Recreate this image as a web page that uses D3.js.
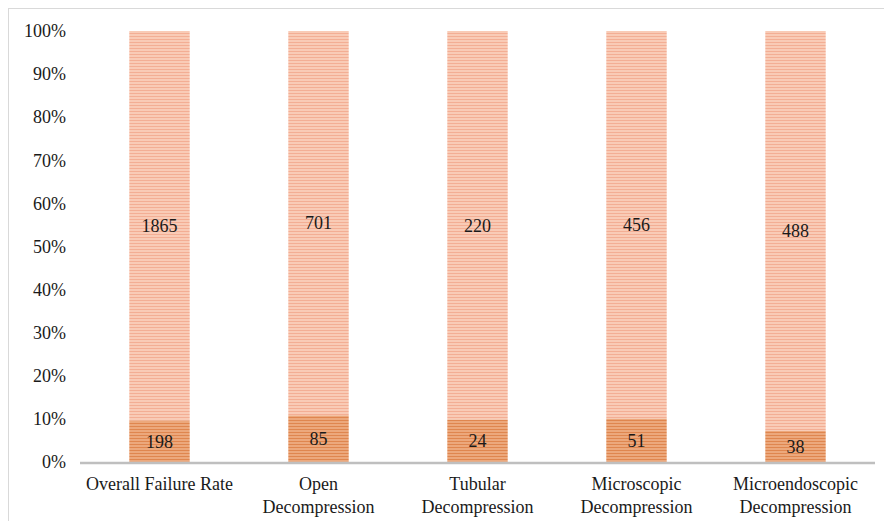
<!DOCTYPE html>
<html>
<head>
<meta charset="utf-8">
<script src="https://cdn.jsdelivr.net/npm/d3@7"></script>
<style>
  html, body { margin: 0; padding: 0; background: #fff; }
  svg { display: block; }
</style>
</head>
<body>
<svg id="chart" width="884" height="521"></svg>
<script>
// Decompression outcome counts, shown as 100% stacked bars
const categories = [
  ["Overall Failure Rate"],
  ["Open", "Decompression"],
  ["Tubular", "Decompression"],
  ["Microscopic", "Decompression"],
  ["Microendoscopic", "Decompression"]
];
const failures = [198, 85, 24, 51, 38];
const successes = [1865, 701, 220, 456, 488];
const yTicks = [0, 0.1, 0.2, 0.3, 0.4, 0.5, 0.6, 0.7, 0.8, 0.9, 1.0];

const svg = d3.select("#chart");
const W = 884, H = 521;
const margin = { left: 80, right: 9, top: 31, bottom: 59 };
const font = "'Liberation Serif', 'Times New Roman', serif";

// Outer frame
svg.append("rect")
  .attr("x", 8.5).attr("y", 8.5)
  .attr("width", 900).attr("height", 600)
  .attr("fill", "none").attr("stroke", "#d9d9d9").attr("stroke-width", 1);

// Horizontal-line fills
const defs = svg.append("defs");
function stripes(id, base, line) {
  const p = defs.append("pattern")
    .attr("id", id).attr("patternUnits", "userSpaceOnUse")
    .attr("width", 8).attr("height", 3);
  p.append("rect").attr("width", 8).attr("height", 3).attr("fill", base);
  p.append("rect").attr("y", 0).attr("width", 8).attr("height", 1).attr("fill", line);
}
stripes("stripeTop", "#f9cbb6", "#f3ae94");
stripes("stripeBottom", "#eca87c", "#df864f");

const x = d3.scaleBand()
  .domain(d3.range(categories.length))
  .range([margin.left, W - margin.right])
  .paddingInner(0.62).paddingOuter(0.31);

const y = d3.scaleLinear()
  .domain([0, 1])
  .range([H - margin.bottom, margin.top]);

const rows = categories.map((c, i) => {
  const total = failures[i] + successes[i];
  return { i, fail: failures[i], ok: successes[i], pf: failures[i] / total };
});

// Y axis labels (no line, no ticks)
const yAxis = svg.append("g")
  .attr("transform", `translate(${margin.left - 14},0)`)
  .call(d3.axisLeft(y).tickValues(yTicks).tickFormat(d3.format(".0%")).tickSize(0).tickPadding(0));
yAxis.select(".domain").remove();
yAxis.selectAll("text")
  .attr("font-family", font).attr("font-size", 18).attr("fill", "#1a1a1a");

// Bars
const g = svg.append("g");
g.selectAll(".top").data(rows).join("rect")
  .attr("x", d => x(d.i)).attr("width", x.bandwidth())
  .attr("y", y(1)).attr("height", d => y(d.pf) - y(1))
  .attr("fill", "url(#stripeTop)");
g.selectAll(".bottom").data(rows).join("rect")
  .attr("x", d => x(d.i)).attr("width", x.bandwidth())
  .attr("y", d => y(d.pf)).attr("height", d => y(0) - y(d.pf))
  .attr("fill", "url(#stripeBottom)");

// Segment value labels
g.selectAll(".lt").data(rows).join("text")
  .attr("x", d => x(d.i) + x.bandwidth() / 2)
  .attr("y", d => (y(1) + y(d.pf)) / 2)
  .attr("dy", "0.35em").attr("text-anchor", "middle")
  .attr("font-family", font).attr("font-size", 18).attr("fill", "#1a1a1a")
  .text(d => d.ok);
g.selectAll(".lb").data(rows).join("text")
  .attr("x", d => x(d.i) + x.bandwidth() / 2)
  .attr("y", d => (y(0) + y(d.pf)) / 2)
  .attr("dy", "0.35em").attr("text-anchor", "middle")
  .attr("font-family", font).attr("font-size", 18).attr("fill", "#1a1a1a")
  .text(d => d.fail);

// X axis baseline
svg.append("line")
  .attr("x1", margin.left).attr("x2", W - margin.right)
  .attr("y1", y(0) + 1).attr("y2", y(0) + 1)
  .attr("stroke", "#bfbfbf").attr("stroke-width", 2.5);

// Category labels
const cat = svg.append("g").selectAll("text").data(categories).join("text")
  .attr("x", (d, i) => x(i) + x.bandwidth() / 2)
  .attr("y", y(0) + 28)
  .attr("text-anchor", "middle")
  .attr("font-family", font).attr("font-size", 18).attr("fill", "#1a1a1a");
cat.selectAll("tspan").data(d => d).join("tspan")
  .attr("x", function () { return d3.select(this.parentNode).attr("x"); })
  .attr("dy", (d, j) => j === 0 ? 0 : 23)
  .text(d => d);
</script>
</body>
</html>
